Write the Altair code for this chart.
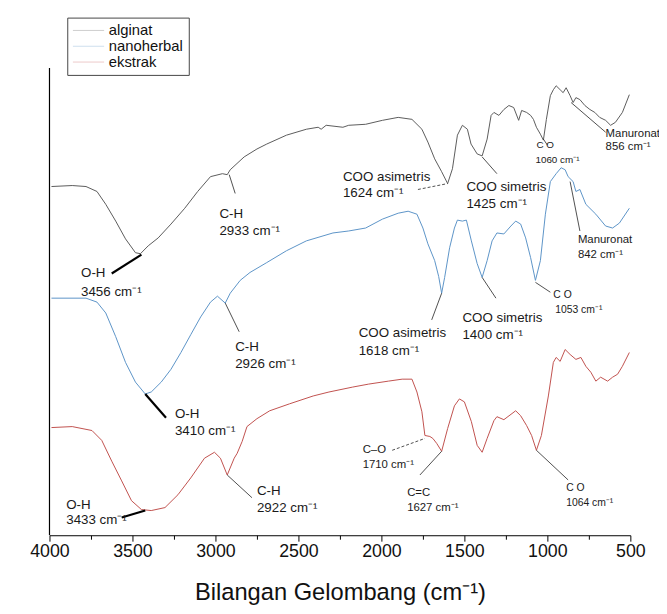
import altair as alt
import pandas as pd

# ---------- spectra (wavenumber cm-1, transmittance in arbitrary units) ----------
alg_wn = [3988, 3863, 3780, 3714, 3661, 3601, 3542, 3482, 3452, 3405, 3345, 3268, 3185, 3107, 3030, 2958,
          2929, 2911, 2827, 2750, 2691, 2572, 2452, 2381, 2363, 2333, 2232, 2197, 2095, 1994, 1899, 1816,
          1756, 1720, 1679, 1637, 1601, 1572, 1542, 1512, 1482, 1460, 1423, 1393, 1363, 1339, 1322, 1292,
          1262, 1232, 1203, 1173, 1155, 1125, 1101, 1084, 1066, 1042, 1024, 1006, 982, 964, 947, 923, 905,
          887, 863, 845, 828, 804, 774, 744, 714, 685, 649, 619, 590, 548, 506]
alg_t = [353, 354, 353, 348, 335, 318, 300, 286, 285, 293, 301, 315, 331, 348, 363, 366,
         365, 370, 383, 391, 396, 405, 411, 413, 411, 415, 413, 415, 416, 420, 423, 421,
         411, 398, 381, 368, 356, 371, 405, 415, 411, 396, 386, 384, 401, 425, 428, 425,
         431, 435, 433, 420, 430, 428, 425, 421, 413, 406, 400, 421, 445, 451, 455, 451, 448,
         453, 445, 438, 443, 441, 435, 431, 428, 423, 420, 415, 418, 428, 446]

nano_wn = [3988, 3780, 3714, 3661, 3601, 3542, 3482, 3423, 3387, 3327, 3268, 3208, 3149, 3089, 3030, 2988,
           2941, 2911, 2851, 2792, 2691, 2572, 2452, 2292, 2197, 2095, 1994, 1899, 1839, 1786, 1750, 1720,
           1679, 1655, 1637, 1619, 1589, 1560, 1542, 1512, 1488, 1458, 1423, 1393, 1363, 1333, 1304, 1262,
           1220, 1191, 1161, 1131, 1101, 1072, 1042, 1012, 982, 947, 917, 893, 875, 845, 828, 804, 768,
           708, 649, 607, 566, 506]
nano_t = [240, 240, 236, 225, 201, 175, 155, 143, 145, 155, 168, 185, 203, 221, 236, 242,
          235, 245, 258, 266, 276, 288, 298, 306, 308, 311, 320, 326, 328, 325, 311, 295,
          278, 262, 245, 261, 291, 311, 319, 318, 319, 298, 275, 261, 278, 298, 306, 305,
          313, 318, 315, 301, 281, 258, 278, 325, 358, 366, 372, 370, 363, 358, 348, 350, 335,
          325, 313, 311, 316, 331]

eks_wn = [3988, 3863, 3744, 3685, 3625, 3565, 3506, 3446, 3387, 3304, 3226, 3149, 3066, 3006, 2970, 2929,
          2887, 2869, 2839, 2810, 2750, 2673, 2554, 2411, 2316, 2173, 2077, 1958, 1875, 1816, 1786, 1756,
          1738, 1708, 1690, 1667, 1637, 1601, 1560, 1530, 1500, 1458, 1423, 1393, 1363, 1322, 1304, 1262,
          1191, 1161, 1125, 1095, 1066, 1036, 994, 964, 947, 923, 893, 863, 828, 798, 768, 738, 708,
          679, 637, 607, 577, 548, 506]
eks_t = [109, 110, 106, 96, 75, 55, 35, 26, 25, 28, 41, 58, 78, 84, 78, 61,
         78, 83, 95, 110, 118, 126, 133, 141, 145, 150, 153, 156, 158, 158, 145, 125,
         101, 100, 98, 93, 85, 108, 131, 138, 135, 115, 91, 84, 98, 116, 120, 117,
         126, 121, 111, 101, 86, 101, 141, 175, 180, 176, 188, 183, 178, 180, 171, 165, 156,
         160, 156, 160, 163, 171, 185]

series_names = ["alginat", "nanoherbal", "ekstrak"]
series_colors = ["#5a5a5a", "#5b93c7", "#c0504d"]

# ---------- peak annotations ----------
ann_text = ["O-H", "3456 cm⁻¹", "C-H", "2933 cm⁻¹", "COO asimetris", "1624 cm⁻¹", "COO simetris", "1425 cm⁻¹",
            "C  O", "1060 cm⁻¹", "Manuronat", "856 cm⁻¹",
            "O-H", "3410 cm⁻¹", "C-H", "2926 cm⁻¹", "COO asimetris", "1618 cm⁻¹", "COO simetris", "1400 cm⁻¹",
            "C  O", "1053 cm⁻¹", "Manuronat", "842 cm⁻¹",
            "O-H", "3433 cm⁻¹", "C-H", "2922 cm⁻¹", "C–O", "1710 cm⁻¹", "C=C", "1627 cm⁻¹", "C  O", "1064 cm⁻¹"]
ann_wn = [3810, 3810, 2976, 2976, 2232, 2232, 1488, 1488, 1066, 1072, 649, 649,
          3244, 3244, 2881, 2881, 2137, 2137, 1512, 1512, 964, 953, 816, 816,
          3899, 3899, 2750, 2750, 2113, 2113, 1845, 1845, 887, 887]
ann_t = [265, 246, 325, 308, 363, 346, 352, 335, 395, 380, 406, 393,
         123, 105, 191, 173, 205, 186, 220, 203, 243, 228, 299, 284,
         31, 15, 45, 28, 86, 71, 43, 28, 48, 33]
ann_size = [13.5, 13.5, 13.5, 13.5, 13.5, 13.5, 13.5, 13.5, 10, 10, 11.5, 11.5,
            13.5, 13.5, 13.5, 13.5, 13.5, 13.5, 13.5, 13.5, 10.5, 10.5, 11.5, 11.5,
            13.5, 13.5, 13.5, 13.5, 11.5, 11.5, 11.5, 11.5, 10.5, 10.5]

# leader lines: start (on curve) -> end (near label)
lead_wn1 = [3625, 2917, 1780, 1393, 1024, 857,
            3423, 2941, 1637, 1393, 1072, 863,
            3565, 2929, 1935, 1768, 1066]
lead_t1 = [265, 365, 350, 383, 401, 438,
           143, 235, 245, 261, 256, 358,
           18, 61, 86, 61, 86]
lead_wn2 = [3446, 2881, 1601, 1304, 1000, 649,
            3298, 2857, 1697, 1310, 982, 804,
            3423, 2780, 1738, 1637, 875]
lead_t2 = [284, 346, 356, 366, 395, 408,
           119, 206, 218, 240, 246, 308,
           25, 38, 98, 85, 56]
lead_style = ["bold", "thin", "dash", "thin", "thin", "thin",
              "bold", "thin", "thin", "thin", "thin", "thin",
              "bold", "thin", "dash", "thin", "thin"]

major_ticks = [4000, 3500, 3000, 2500, 2000, 1500, 1000, 500]
minor_ticks = [3750, 3250, 2750, 2250, 1750, 1250, 750]
x_range = [4000, 500]
t_range = [0, 473]

# ---------- build tables ----------
rows = []
for name, wn, t in [("alginat", alg_wn, alg_t), ("nanoherbal", nano_wn, nano_t), ("ekstrak", eks_wn, eks_t)]:
    for w, v in zip(wn, t):
        rows.append({"series": name, "wn": w, "T": v})
spec = pd.DataFrame(rows)
ann = pd.DataFrame({"text": ann_text, "wn": ann_wn, "T": ann_t, "size": ann_size})
lead = pd.DataFrame({"wn1": lead_wn1, "t1": lead_t1, "wn2": lead_wn2, "t2": lead_t2, "style": lead_style})

FONT = "Arial"
xscale = alt.Scale(domain=x_range, nice=False, zero=False)
yscale = alt.Scale(domain=t_range, nice=False, zero=False)

lines = alt.Chart(spec).mark_line(strokeWidth=1).encode(
    x=alt.X("wn:Q", scale=xscale,
            axis=alt.Axis(values=major_ticks, format="d", title="Bilangan Gelombang (cm⁻¹)",
                          titleFontSize=24, titleFontWeight="normal", titleFont=FONT, titlePadding=20,
                          titleColor="#111",
                          labelFontSize=18, labelFont=FONT, labelColor="#111", labelPadding=2,
                          tickSize=6, tickColor="#000", domainColor="#000", grid=False,
                          labelFlush=False, labelOverlap=False)),
    y=alt.Y("T:Q", scale=yscale,
            axis=alt.Axis(title="Transmitasi", titleFontSize=24, titleFontWeight="normal", titleFont=FONT,
                          titleColor="#111", titlePadding=14, labels=False, ticks=False, grid=False,
                          domain=True, domainWidth=1.2, domainColor="#000", domainOpacity=1)),
    color=alt.Color("series:N", scale=alt.Scale(domain=series_names, range=series_colors),
                    legend=alt.Legend(title=None, orient="none", legendX=18, legendY=-51,
                                      symbolType="stroke", symbolSize=1000, symbolStrokeWidth=1,
                                      symbolOpacity=0.3, labelFontSize=15, labelFont=FONT,
                                      labelColor="#111", labelOffset=4, padding=5, rowPadding=0,
                                      clipHeight=16,
                                      strokeColor="#444", fillColor="white")),
    order=alt.Order("wn:Q", sort="descending"),
)

# left axis line spanning the full transmittance range at 4000 cm-1
left_axis = alt.Chart(pd.DataFrame({"wn": [x_range[0]], "lo": [t_range[0]], "hi": [t_range[1]]})).mark_rule(
    strokeWidth=1.2, color="#000").encode(
    x=alt.X("wn:Q", scale=xscale, axis=None),
    y=alt.Y("lo:Q", scale=yscale, axis=None), y2="hi:Q")

bold = alt.Chart(lead).transform_filter(alt.datum.style == "bold").mark_rule(
    strokeWidth=2.2, color="#000").encode(
    x=alt.X("wn1:Q", scale=xscale, axis=None), x2="wn2:Q",
    y=alt.Y("t1:Q", scale=yscale, axis=None), y2="t2:Q")
thin = alt.Chart(lead).transform_filter(alt.datum.style == "thin").mark_rule(
    strokeWidth=0.8, color="#222").encode(
    x=alt.X("wn1:Q", scale=xscale, axis=None), x2="wn2:Q",
    y=alt.Y("t1:Q", scale=yscale, axis=None), y2="t2:Q")
dash = alt.Chart(lead).transform_filter(alt.datum.style == "dash").mark_rule(
    strokeWidth=0.8, color="#222", strokeDash=[3, 2]).encode(
    x=alt.X("wn1:Q", scale=xscale, axis=None), x2="wn2:Q",
    y=alt.Y("t1:Q", scale=yscale, axis=None), y2="t2:Q")

texts = alt.Chart(ann).mark_text(align="left", baseline="middle", font=FONT, color="#1a1a1a").encode(
    x=alt.X("wn:Q", scale=xscale,
            axis=alt.Axis(values=minor_ticks, labels=False, domain=False, tickSize=4, tickColor="#000",
                          title=None, grid=False, orient="bottom")),
    y=alt.Y("T:Q", scale=yscale, axis=None),
    text="text:N",
    size=alt.Size("size:Q", scale=None, legend=None),
)

chart = alt.layer(lines, left_axis, bold, thin, dash, texts).resolve_axis(x="independent").properties(
    width=588, height=473,
    autosize=alt.AutoSizeParams(type="none"),
    padding={"left": 42, "top": 57, "right": 29, "bottom": 76},
    background="white",
).configure_view(stroke="transparent").configure_axisY(domain=True, domainColor="#000")

chart.save("out.html", embed_options={"renderer": "svg", "actions": False})
